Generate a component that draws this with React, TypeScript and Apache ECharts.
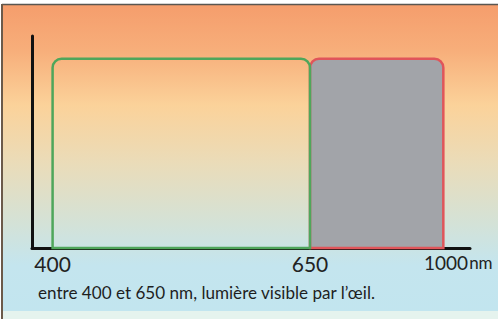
import React, { useEffect, useRef } from "react";
import * as echarts from "echarts";

// Spectral bands (nm)
const bandNames = ["visible", "infrarouge"];
const bandStart = [400, 650];
const bandEnd = [650, 1000];
const bandLevel = [100, 100];
// Tick labels
const visibleTicks = [400, 650];
const infraTicks = [1000];
const caption = "entre 400 et 650 nm, lumière visible par l’œil.";

export default function App() {
  const ref = useRef<HTMLDivElement>(null);
  useEffect(() => {
    document.body.style.margin = "0";
    const chart = echarts.init(ref.current!, null, { renderer: "svg" });
    const bandItem = (idx: number) => (params: any, api: any) => {
      const x0 = api.value(0);
      const x1 = api.value(1);
      const y = api.value(2);
      const p0 = api.coord([x0, y]);
      const p1 = api.coord([x1, 0]);
      const isVisible = idx === 0;
      return {
        type: "rect",
        shape: {
          x: p0[0],
          y: p0[1],
          width: p1[0] - p0[0],
          height: p1[1] - p0[1],
          r: [9, 9, 0, 0],
        },
        style: isVisible
          ? { fill: "none", stroke: "#4fa65b", lineWidth: 2.5 }
          : { fill: "#a2a4a9", stroke: "#e0555a", lineWidth: 2.5 },
        z2: isVisible ? 10 : 5,
      };
    };
    const yMax = 112;
    chart.setOption({
      animation: false,
      backgroundColor: "#ffffff",
      graphic: [
        {
          type: "rect",
          z: -10,
          silent: true,
          shape: { x: 2, y: 4, width: 496, height: 307 },
          style: {
            fill: new echarts.graphic.LinearGradient(0, 0, 0, 1, [
              { offset: 0, color: "#f59d6c" },
              { offset: 0.15, color: "#f7ae7a" },
              { offset: 0.33, color: "#fbd29a" },
              { offset: 0.52, color: "#eadcb9" },
              { offset: 0.72, color: "#d3e2d8" },
              { offset: 0.85, color: "#c4e5ee" },
              { offset: 1, color: "#c2e5ef" },
            ]),
          },
        },
        {
          type: "rect",
          z: -10,
          silent: true,
          shape: { x: 2, y: 311, width: 496, height: 8 },
          style: { fill: "#e5f3ee" },
        },
        {
          type: "line",
          z: -9,
          silent: true,
          shape: { x1: 2, y1: 4.5, x2: 498, y2: 4.5 },
          style: { stroke: "#5a5650", lineWidth: 1.5 },
        },
        {
          type: "line",
          z: -9,
          silent: true,
          shape: { x1: 2, y1: 4, x2: 2, y2: 319 },
          style: { stroke: "#6b5a4a", lineWidth: 2 },
        },
        {
          type: "text",
          x: 38,
          y: 283,
          scaleX: 0.95,
          style: {
            text: caption,
            fill: "#1e1e1e",
            font: "18px Lato",
            verticalAlign: "top",
          },
        },
      ],
      grid: [
        { left: 32, top: 36, width: 278, bottom: 71 },
        { left: 310, top: 36, width: 160, bottom: 71 },
      ],
      xAxis: [
        {
          type: "value",
          gridIndex: 0,
          min: 380,
          max: 650,
          splitLine: { show: false },
          axisLine: { lineStyle: { color: "#111", width: 3 } },
          axisTick: { show: false },
          axisLabel: {
            customValues: visibleTicks,
            margin: 5,
            color: "#222",
            fontFamily: "Lato",
            fontSize: 21,
          },
        },
        {
          type: "value",
          gridIndex: 1,
          min: 650,
          max: 1070,
          splitLine: { show: false },
          axisLine: { lineStyle: { color: "#111", width: 3 } },
          axisTick: { show: false },
          axisLabel: {
            customValues: infraTicks,
            margin: 5,
            color: "#222",
            fontFamily: "Lato",
            formatter: (v: number) => `{n|${v}}{u|nm}`,
            rich: {
              n: { fontFamily: "Lato", fontSize: 19, color: "#222", padding: [0, 1, 0, 30] },
              u: { fontFamily: "Lato", fontSize: 17, color: "#222" },
            },
          },
        },
      ],
      yAxis: [
        {
          type: "value",
          gridIndex: 0,
          min: 0,
          max: yMax,
          splitLine: { show: false },
          axisTick: { show: false },
          axisLabel: { show: false },
          axisLine: { show: true, lineStyle: { color: "#111", width: 3 } },
        },
        {
          type: "value",
          gridIndex: 1,
          min: 0,
          max: yMax,
          show: false,
        },
      ],
      series: [
        {
          type: "custom",
          name: bandNames[1],
          xAxisIndex: 1,
          yAxisIndex: 1,
          z: 2,
          renderItem: bandItem(1),
          data: [[bandStart[1], bandEnd[1], bandLevel[1]]],
        },
        {
          type: "custom",
          name: bandNames[0],
          xAxisIndex: 0,
          yAxisIndex: 0,
          z: 3,
          renderItem: bandItem(0),
          data: [[bandStart[0], bandEnd[0], bandLevel[0]]],
        },
      ],
    });
    return () => chart.dispose();
  }, []);
  return (
    <div
      ref={ref}
      style={{ position: "absolute", left: 0, top: 0, width: 498, height: 319 }}
    />
  );
}
